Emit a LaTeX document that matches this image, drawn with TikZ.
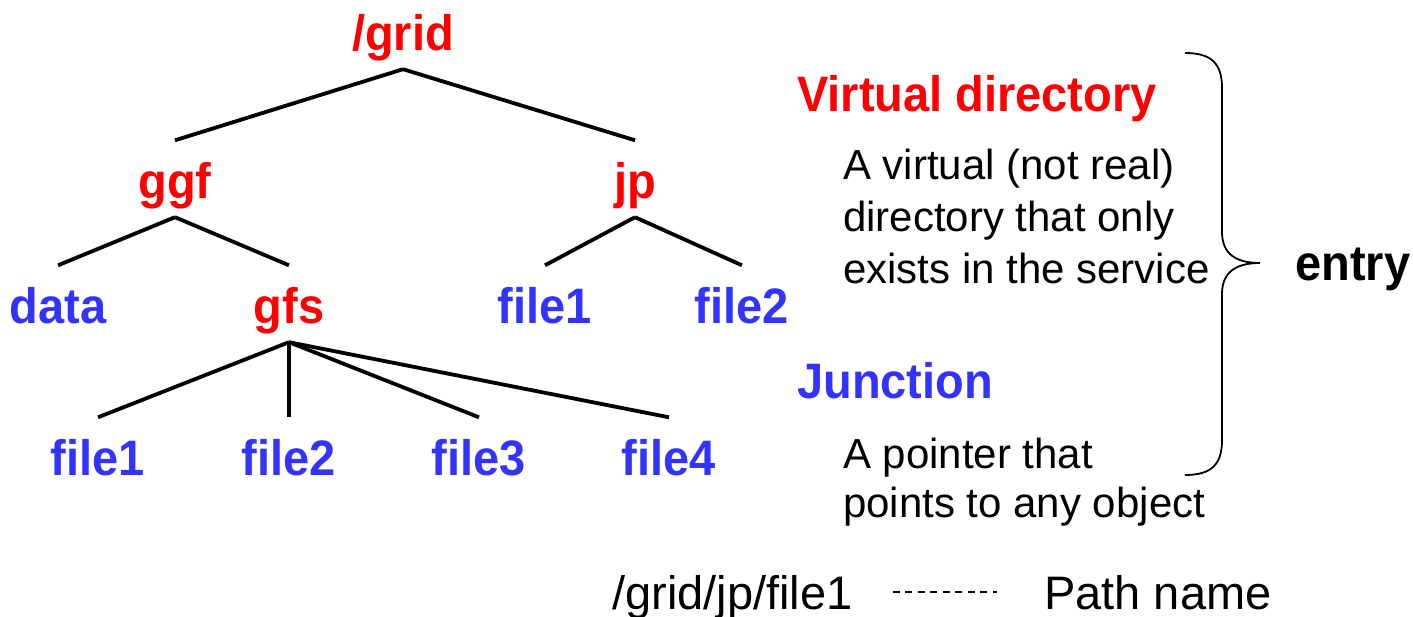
\documentclass[tikz,border=0pt]{standalone}
\usepackage{fontspec}
\setmainfont{Liberation Sans}
\usetikzlibrary{calc}
\definecolor{vred}{RGB}{255,0,0}
\definecolor{vblue}{RGB}{51,51,255}
\newcommand\tallbox[1]{\scalebox{1}[1.06]{#1}}
\begin{document}
\begin{tikzpicture}[x=1pt, y=-1pt,
  lbl/.style={font=\bfseries\fontsize{47}{56}\selectfont, anchor=base, inner sep=0pt,
              text height=57.5pt, text depth=19pt},
  hdr/.style={font=\bfseries\fontsize{47}{56}\selectfont, anchor=base west, inner sep=0pt},
  body/.style={font=\fontsize{42}{52}\selectfont, anchor=base west, inner sep=0pt, align=left},
  plain/.style={font=\fontsize{47}{56}\selectfont, anchor=base west, inner sep=0pt},
  edge/.style={line width=3.8pt},
  bracestyle/.style={line width=1.8pt},
  dashline/.style={line width=1.2pt, dash pattern=on 7pt off 5.5pt}]
\useasboundingbox (0,0) rectangle (1413,616);

% tree
\node[lbl, text=vred]  (grid) at (403,50)  {\tallbox{/grid}};
\node[lbl, text=vred]  (ggf)  at (175,198) {\tallbox{ggf}};
\node[lbl, text=vred]  (jp)   at (635,198) {\tallbox{jp}};
\node[lbl, text=vblue] (data) at (58,323)  {\tallbox{data}};
\node[lbl, text=vred]  (gfs)  at (289,323) {\tallbox{gfs}};
\node[lbl, text=vblue] (jf1)  at (545,323) {\tallbox{file1}};
\node[lbl, text=vblue] (jf2)  at (742,323) {\tallbox{file2}};
\node[lbl, text=vblue] (f1)   at (98,475)  {\tallbox{file1}};
\node[lbl, text=vblue] (f2)   at (289,475) {\tallbox{file2}};
\node[lbl, text=vblue] (f3)   at (479,475) {\tallbox{file3}};
\node[lbl, text=vblue] (f4)   at (669,475) {\tallbox{file4}};

\draw[edge] (grid.south) -- (ggf.north);
\draw[edge] (grid.south) -- (jp.north);
\draw[edge] (ggf.south) -- (data.north);
\draw[edge] (ggf.south) -- (gfs.north);
\draw[edge] (jp.south) -- (jf1.north);
\draw[edge] (jp.south) -- (jf2.north);
\draw[edge] (gfs.south) -- (f1.north);
\draw[edge] (gfs.south) -- (f2.north);
\draw[edge] (gfs.south) -- (f3.north);
\draw[edge] (gfs.south) -- (f4.north);

% legend
\node[hdr, text=vred] (vd) at (797,111) {\tallbox{Virtual directory}};
\node[body] (vdtext) at (843,283) {A virtual (not real)\\directory that only\\exists in the service};
\node[hdr, text=vblue] (jn) at (797,398) {\tallbox{Junction}};
\node[body, font=\fontsize{42}{49}\selectfont] (jntext) at (843,517) {A pointer that\\points to any object};
\node[hdr] (entry) at (1295,280) {\tallbox{entry}};

\draw[bracestyle] (1185,53) .. controls (1212,53) and (1222,64) .. (1222,88)
  -- (1222,232) .. controls (1222,254) and (1236,263) .. (1260,263)
  .. controls (1236,263) and (1222,272) .. (1222,294)
  -- (1222,440) .. controls (1222,464) and (1212,475) .. (1185,475);

% path name
\node[plain] (pth) at (612,609) {/grid/jp/file1};
\node[plain] (pnm) at (1044,609) {Path name};
\draw[dashline] ($(pth.base east)+(40,-17)$) -- ($(pnm.base west)+(-47,-17)$);
\end{tikzpicture}
\end{document}
